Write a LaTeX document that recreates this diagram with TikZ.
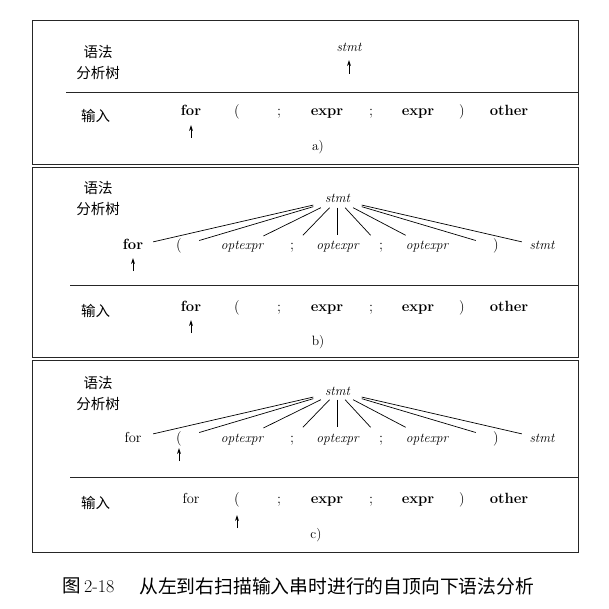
\documentclass[tikz,border=0pt]{standalone}
\usepackage{fontspec}
\newfontfamily\cjk{Noto Sans CJK SC}
\usetikzlibrary{arrows.meta}
\begin{document}
\begin{tikzpicture}[x=1pt,y=-1pt,
  panel/.style={draw=black!85,line width=0.9pt},
  sepline/.style={draw=black!85,line width=0.9pt},
  lab/.style={font=\cjk\fontsize{14.5}{21}\selectfont,align=center,inner sep=0pt},
  tok/.style={font=\fontsize{14.5}{16}\selectfont,text height=10pt,text depth=3pt,inner sep=0pt},
  btok/.style={tok,font=\bfseries\fontsize{14.8}{16}\selectfont},
  itok/.style={tok,font=\itshape\fontsize{13.5}{16}\selectfont},
  kid/.style={minimum width=40pt,minimum height=22pt},
  rootn/.style={itok,minimum width=48pt,minimum height=16pt},
  ptr/.style={line width=0.8pt,-{Stealth[length=6pt,width=3.8pt]}},
  edge/.style={line width=0.7pt},
  sub/.style={font=\fontsize{13.5}{15}\selectfont,inner sep=0pt}
]
\useasboundingbox (0,0) rectangle (608,609);
% ---------- panel a ----------
\draw[panel] (32,20) rectangle (578,164);
\draw[sepline] (66,92) -- (578,92);
\node[lab] (labA) at (98,62.5) {语法\\分析树};
\node[lab] (inA) at (95.5,116) {输入};
\node[rootn] (rootA) at (349,48.5) {stmt};
\coordinate (rootAp) at (349,74);
\draw[ptr] (rootAp) -- (349,60);
\node[btok] (aFor) at (191,112.5) {for};
\node[tok]  (aLp)  at (237,112.5) {(};
\node[tok]  (aS1)  at (279,112.5) {;};
\node[btok] (aE1)  at (327,112.5) {expr};
\node[tok]  (aS2)  at (371,112.5) {;};
\node[btok] (aE2)  at (418,112.5) {expr};
\node[tok]  (aRp)  at (462,112.5) {)};
\node[btok] (aOth) at (509,112.5) {other};
\coordinate (aForP) at (191,138);
\draw[ptr] (aForP) -- (191,125);
\node[sub] (subA) at (318,147) {a)};
% ---------- panel b ----------
\draw[panel] (32,167) rectangle (578,357);
\draw[sepline] (70,285) -- (578,285);
\node[lab] (labB) at (98,199) {语法\\分析树};
\node[lab] (inB) at (95.5,311) {输入};
\node[rootn] (rootB) at (337.5,199.5) {stmt};
\node[btok,kid] (bFor) at (133,246.5) {for};
\node[tok,kid]  (bLp)  at (179,246.5) {(};
\node[itok,kid] (bO1)  at (242,246.5) {optexpr};
\node[tok,kid]  (bS1)  at (292,246.5) {;};
\node[itok,kid] (bO2)  at (337.5,246.5) {optexpr};
\node[tok,kid]  (bS2)  at (381,246.5) {;};
\node[itok,kid] (bO3)  at (427,246.5) {optexpr};
\node[tok,kid]  (bRp)  at (496,246.5) {)};
\node[itok,kid] (bSt)  at (542,246.5) {stmt};
\foreach \k in {bFor,bLp,bO1,bS1,bO2,bS2,bO3,bRp,bSt}
  \draw[edge] (rootB) -- (\k);
\coordinate (bForP) at (133,271);
\draw[ptr] (bForP) -- (133,258);
\node[btok] (bIFor) at (191,307.5) {for};
\node[tok]  (bILp)  at (237,307.5) {(};
\node[tok]  (bIS1)  at (279,307.5) {;};
\node[btok] (bIE1)  at (327,307.5) {expr};
\node[tok]  (bIS2)  at (371,307.5) {;};
\node[btok] (bIE2)  at (418,307.5) {expr};
\node[tok]  (bIRp)  at (462,307.5) {)};
\node[btok] (bIOth) at (509,307.5) {other};
\coordinate (bIForP) at (191,333);
\draw[ptr] (bIForP) -- (191,320);
\node[sub] (subB) at (318,342) {b)};
% ---------- panel c ----------
\draw[panel] (32,360) rectangle (578,552);
\draw[sepline] (70,477) -- (578,477);
\node[lab] (labC) at (98,393.5) {语法\\分析树};
\node[lab] (inC) at (95.5,503) {输入};
\node[rootn] (rootC) at (337.5,391.5) {stmt};
\node[tok,kid]  (cFor) at (133,438.5) {for};
\node[tok,kid]  (cLp)  at (179,438.5) {(};
\node[itok,kid] (cO1)  at (242,438.5) {optexpr};
\node[tok,kid]  (cS1)  at (292,438.5) {;};
\node[itok,kid] (cO2)  at (337.5,438.5) {optexpr};
\node[tok,kid]  (cS2)  at (381,438.5) {;};
\node[itok,kid] (cO3)  at (427,438.5) {optexpr};
\node[tok,kid]  (cRp)  at (496,438.5) {)};
\node[itok,kid] (cSt)  at (542,438.5) {stmt};
\foreach \k in {cFor,cLp,cO1,cS1,cO2,cS2,cO3,cRp,cSt}
  \draw[edge] (rootC) -- (\k);
\coordinate (cLpP) at (179,461);
\draw[ptr] (cLpP) -- (179,448);
\node[tok]  (cIFor) at (191,499.5) {for};
\node[tok]  (cILp)  at (237,499.5) {(};
\node[tok]  (cIS1)  at (279,499.5) {;};
\node[btok] (cIE1)  at (327,499.5) {expr};
\node[tok]  (cIS2)  at (371,499.5) {;};
\node[btok] (cIE2)  at (418,499.5) {expr};
\node[tok]  (cIRp)  at (462,499.5) {)};
\node[btok] (cIOth) at (509,499.5) {other};
\coordinate (cILpP) at (237,528);
\draw[ptr] (cILpP) -- (237,515);
\node[sub] (subC) at (316,535) {c)};
% ---------- caption ----------
\node[font=\cjk\fontsize{18.5}{20}\selectfont,inner sep=0pt,anchor=west] (cap1) at (62,586) {图};
\node[font=\fontsize{18}{20}\selectfont,inner sep=0pt,anchor=west] (cap2) at (84,587) {2-18};
\node[font=\cjk\fontsize{18.8}{20}\selectfont,inner sep=0pt,anchor=west] (cap3) at (139,586) {从左到右扫描输入串时进行的自顶向下语法分析};
\end{tikzpicture}
\end{document}
